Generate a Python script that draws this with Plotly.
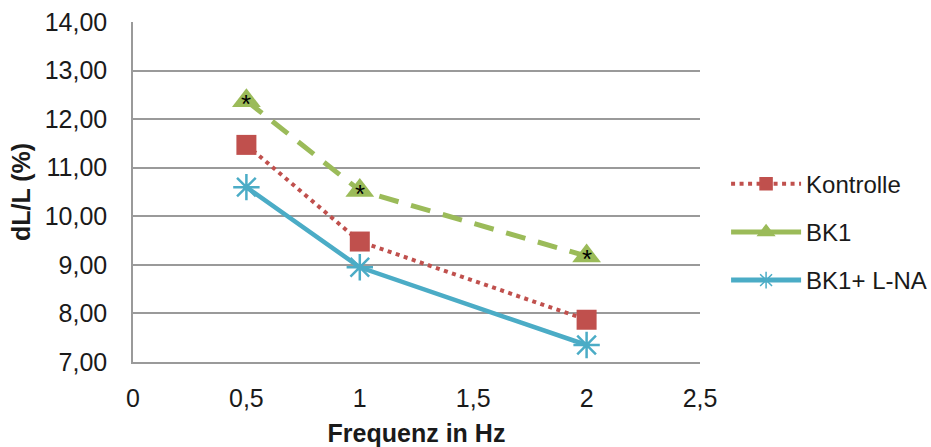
import plotly.graph_objects as go

# Frequencies (Hz) and relative length change dL/L (%)
freq = [0.5, 1, 2]
kontrolle = [11.47, 9.48, 7.87]
bk1 = [12.38, 10.53, 9.18]
bk1_lna = [10.60, 8.95, 7.35]
sig_marks = ["*", "*", "*"]

series_names = ["Kontrolle", "BK1", "BK1+ L-NA"]
x_ticks = [0, 0.5, 1, 1.5, 2, 2.5]
y_ticks = [7, 8, 9, 10, 11, 12, 13, 14]

RED = "#C0504D"
GREEN = "#9BBB59"
BLUE = "#4BACC6"
GRID = "#9a9a9a"
TXT = "#1a1a1a"
FONT = "Liberation Sans, Arial, sans-serif"

fig = go.Figure()

# data series
fig.add_trace(go.Scatter(
    x=freq, y=kontrolle, name=series_names[0], mode="lines+markers",
    showlegend=False,
    line=dict(color=RED, width=4, dash="4px,4.5px"),
    marker=dict(symbol="square", size=20, color=RED),
))
fig.add_trace(go.Scatter(
    x=freq, y=bk1, name=series_names[1], mode="lines+markers",
    showlegend=False,
    line=dict(color=GREEN, width=5, dash="20px,13px"),
    marker=dict(symbol="triangle-up", size=25, color=GREEN),
))
fig.add_trace(go.Scatter(
    x=freq, y=bk1_lna, name=series_names[2], mode="lines+markers",
    showlegend=False,
    line=dict(color=BLUE, width=4.5),
    marker=dict(symbol="asterisk-open", size=22, color=BLUE,
                line=dict(color=BLUE, width=2.5)),
))

# legend entries (small symbols, solid sample for BK1)
legend_styles = [
    (RED, "4px,4.5px", 4, "square", 12),
    (GREEN, "solid", 5, "triangle-up", 14),
    (BLUE, "solid", 5, "asterisk-open", 14),
]
for name, (col, dash, w, sym, ms) in zip(series_names, legend_styles):
    fig.add_trace(go.Scatter(
        x=[None], y=[None], name=name, mode="lines+markers",
        legendgroup=name,
        line=dict(color=col, width=w, dash=dash),
        marker=dict(symbol=sym, size=ms, color=col, line=dict(color=col, width=1.5)),
    ))

# significance asterisks on the BK1 points
for xv, yv, s in zip(freq, bk1, sig_marks):
    fig.add_annotation(x=xv, y=yv, text=s, showarrow=False, yshift=-3,
                       font=dict(family=FONT, size=26, color="black"))

fig.update_layout(
    width=931, height=447,
    margin=dict(l=133, r=231, t=22, b=85, autoexpand=False),
    paper_bgcolor="white", plot_bgcolor="white",
    separators=",.",
    font=dict(family=FONT, size=25, color=TXT),
    showlegend=True,
    legend=dict(x=1.046, y=0.382, xanchor="left", yanchor="middle",
                font=dict(size=24, color=TXT), itemwidth=70,
                tracegroupgap=14, bgcolor="rgba(0,0,0,0)"),
    xaxis=dict(range=[0, 2.5], tickvals=x_ticks, automargin=False,
               showgrid=False, showline=True, linecolor=GRID, linewidth=1.5,
               zeroline=False, ticks="", ticklabelstandoff=13,
               tickfont=dict(size=25, color=TXT),
               title=dict(text="<b>Frequenz in Hz</b>", font=dict(size=25, color=TXT),
                          standoff=15)),
    yaxis=dict(range=[7, 14], tickvals=y_ticks, tickformat=".2f", automargin=False,
               showgrid=True, gridcolor=GRID, gridwidth=1.5,
               showline=True, linecolor=GRID, linewidth=1.5,
               zeroline=False, ticks="", ticklabelstandoff=19,
               tickfont=dict(size=25, color=TXT),
               title=dict(text="<b>dL/L (%)</b>", font=dict(size=25, color=TXT),
                          standoff=7)),
)

fig.write_html("out.html")
